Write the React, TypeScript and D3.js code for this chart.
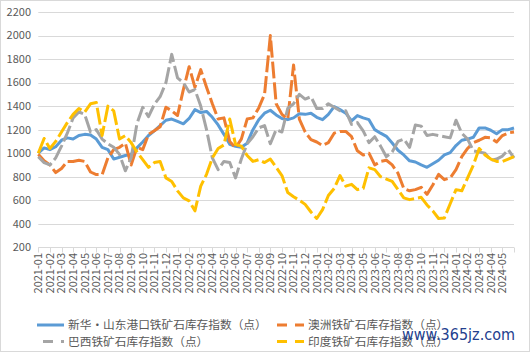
import React from "react";
import * as d3 from "d3";

// month tick labels along the x axis
const monthLabels = [
  "2021-01", "2021-02", "2021-03", "2021-04", "2021-05", "2021-06", "2021-07", "2021-08", "2021-09", "2021-10", "2021-11", "2021-12",
  "2022-01", "2022-02", "2022-03", "2022-04", "2022-05", "2022-06", "2022-07", "2022-08", "2022-09", "2022-10", "2022-11", "2022-12",
  "2023-01", "2023-02", "2023-03", "2023-04", "2023-05", "2023-06", "2023-07", "2023-08", "2023-09", "2023-10", "2023-11", "2023-12",
  "2024-01", "2024-02", "2024-03", "2024-04", "2024-05",
];

const yTicks = [200, 400, 600, 800, 1000, 1200, 1400, 1600, 1800, 2000, 2200];

// samples are taken every half month, starting 2021-01
const SAMPLE_STEP = 0.5;

const shandong = [
  1000, 1045, 1030, 1055, 1110, 1130, 1120, 1150, 1160, 1155, 1120, 1050, 1030, 950, 965, 980, 990, 1045, 1095, 1150,
  1190, 1235, 1280, 1290, 1270, 1250, 1295, 1370, 1345, 1355, 1305, 1240, 1160, 1075, 1058, 1050, 1085, 1200, 1285, 1340,
  1365, 1325, 1295, 1285, 1300, 1335, 1330, 1340, 1305, 1285, 1330, 1395, 1370, 1340, 1275, 1320, 1300, 1285, 1200, 1170,
  1143, 1087, 1025, 985, 935, 925, 900, 880, 910, 940, 985, 1005, 1065, 1110, 1120, 1135, 1215, 1215, 1195, 1165,
  1200, 1200, 1214,
];

const australia = [
  990, 935, 900, 835, 870, 930, 930, 940, 930, 840, 818, 818, 960, 1030, 1050, 1085, 900, 1050, 1030, 1160,
  1190, 1225, 1390, 1360, 1320, 1540, 1735, 1560, 1710, 1560, 1420, 1290, 1300, 1100, 1045, 1120, 1290, 1300, 1385, 1500,
  2000, 1420, 1330, 1290, 1750, 1290, 1180, 1115, 1095, 1065, 1090, 1170, 1185, 1185, 1140, 1020, 985, 1000, 900, 930,
  940, 900, 830, 700, 680, 690, 710, 650, 730, 820, 775, 790, 860, 970, 1040, 1090, 1110, 1135, 1130, 1095,
  1150, 1172, 1180,
];

const brazil = [
  970, 920, 900, 960, 1060, 1170, 1300, 1350, 1330, 1180, 1200, 1120, 1080, 1050, 990, 850, 960, 1250, 1390, 1310,
  1415, 1480, 1600, 1840, 1640, 1600, 1520, 1540, 1400, 1200, 960, 860, 930, 920, 790, 950, 1080, 1140, 1215, 1235,
  1080, 1200, 1180, 1380, 1420, 1500, 1460, 1480, 1380, 1380, 1420, 1390, 1360, 1360, 1245, 1260, 1190, 1090, 1140, 1060,
  970, 1010, 1100, 1120, 1050, 1240, 1230, 1150, 1160, 1150, 1140, 1130, 1280, 1170, 1120, 1020, 1010, 1000, 940, 950,
  975, 1030, 960,
];

const india = [
  1000, 1125, 1040, 1100, 1180, 1260, 1330, 1380, 1350, 1420, 1430, 1150, 1400, 1360, 1120, 1150, 1090, 1010, 945, 880,
  920, 930, 790, 760, 680, 620, 595, 510, 720, 820, 960, 1040, 1070, 1290, 1075, 1060, 980, 930, 945, 920,
  950, 880, 810, 665, 630, 600, 565, 500, 445, 520, 640, 700, 810, 720, 735, 690, 700, 875, 860, 800,
  780, 760, 690, 620, 605, 615, 625, 560, 510, 445, 450, 570, 690, 680, 790, 900, 1040, 985, 950, 930,
  930, 950, 970,
];

const seriesNames = [
  "新华・山东港口铁矿石库存指数（点）",
  "澳洲铁矿石库存指数（点）",
  "巴西铁矿石库存指数（点）",
  "印度铁矿石库存指数（点）",
];
const seriesValues = [shandong, australia, brazil, india];
const seriesColors = ["#5B9BD5", "#ED7D31", "#A5A5A5", "#FFC000"];
const seriesDashed = [false, true, true, true];

const width = 530;
const height = 352;

export default function App() {
  const plotLeft = 38.3;
  const plotRight = 514;
  const plotTop = 12;
  const plotBottom = 247.3;

  const x = d3.scaleLinear().domain([0, monthLabels.length]).range([plotLeft, plotRight]);
  const y = d3.scaleLinear().domain([200, 2200]).range([plotBottom, plotTop]);

  const line = d3
    .line<number>()
    .x((d, i) => x(i * SAMPLE_STEP))
    .y((d) => y(d));

  const tickFont = "'Noto Sans CJK SC', 'Noto Sans', sans-serif";
  const axisTicks = d3.range(monthLabels.length + 1);

  // legend layout: two columns, two rows
  const legendCols = [37, 277];
  const legendRows = [325, 341.5];

  return (
    <div style={{ position: "absolute", left: 0, top: 0 }}>
      <svg width={width} height={height} style={{ display: "block", background: "#fff" }}>
        <rect x={0.5} y={0.5} width={width - 1} height={height - 1} fill="#fff" stroke="#D9D9D9" />

        {/* horizontal grid */}
        {yTicks.map((t) => (
          <line
            key={"g" + t}
            x1={plotLeft}
            x2={plotRight}
            y1={Math.round(y(t)) + 0.5}
            y2={Math.round(y(t)) + 0.5}
            stroke="#D9D9D9"
            strokeWidth={1}
          />
        ))}

        {/* y tick labels */}
        {yTicks.map((t) => (
          <text
            key={"yl" + t}
            x={31}
            y={y(t)}
            dy="0.35em"
            textAnchor="end"
            fontFamily={tickFont}
            fontSize={11}
            fill="#595959"
          >
            {t}
          </text>
        ))}

        {/* x tick marks */}
        {axisTicks.map((i) => (
          <line
            key={"xt" + i}
            x1={Math.round(x(i)) + 0.5}
            x2={Math.round(x(i)) + 0.5}
            y1={Math.round(plotBottom) + 0.5}
            y2={Math.round(plotBottom) + 5.5}
            stroke="#D9D9D9"
          />
        ))}

        {/* x tick labels */}
        {monthLabels.map((m, i) => (
          <text
            key={"xl" + m}
            transform={`translate(${x(i)},253) rotate(-90)`}
            dy="0.35em"
            textAnchor="end"
            fontFamily={tickFont}
            fontSize={11}
            fill="#595959"
          >
            {m}
          </text>
        ))}

        {/* series */}
        {seriesValues.map((vals, k) => (
          <path
            key={"s" + k}
            d={line(vals) || ""}
            fill="none"
            stroke={seriesColors[k]}
            strokeWidth={3}
            strokeLinejoin="round"
            strokeDasharray={seriesDashed[k] ? "17,4" : undefined}
          />
        ))}

        {/* legend */}
        {seriesNames.map((name, k) => {
          const lx = legendCols[k % 2];
          const ly = legendRows[Math.floor(k / 2)];
          return (
            <g key={"lg" + k}>
              <line
                x1={lx}
                x2={lx + 27}
                y1={ly}
                y2={ly}
                stroke={seriesColors[k]}
                strokeWidth={3}
                strokeDasharray={seriesDashed[k] ? "10,8" : undefined}
                strokeDashoffset={k === 2 ? 12 : 0}
              />
              <text
                x={lx + 31}
                y={ly}
                dy="0.36em"
                fontFamily={tickFont}
                fontSize={11.7}
                fill="#595959"
              >
                {name}
              </text>
            </g>
          );
        })}

        {/* site watermark */}
        <text
          x={402}
          y={340}
          fontFamily="'DejaVu Sans', sans-serif"
          fontSize={15}
          fill="#23408e"
          textLength={113}
          lengthAdjust="spacingAndGlyphs"
        >
          www.365jz.com
        </text>
      </svg>
    </div>
  );
}
